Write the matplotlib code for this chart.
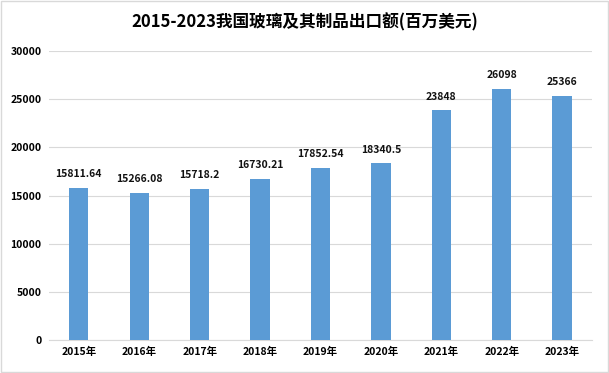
import matplotlib
matplotlib.use("Agg")
import matplotlib.pyplot as plt

plt.rcParams['font.family'] = ['Noto Sans CJK SC', 'DejaVu Sans']

years = ["2015年", "2016年", "2017年", "2018年", "2019年", "2020年", "2021年", "2022年", "2023年"]
values = [15811.64, 15266.08, 15718.2, 16730.21, 17852.54, 18340.5, 23848, 26098, 25366]
labels = ["15811.64", "15266.08", "15718.2", "16730.21", "17852.54", "18340.5", "23848", "26098", "25366"]
yticks = [0, 5000, 10000, 15000, 20000, 25000, 30000]

fig = plt.figure(figsize=(6.09, 3.73), dpi=100)
ax = fig.add_axes([0.0797, 0.088, 0.893, 0.775])
x = list(range(len(years)))
ax.bar(x, values, width=0.32, color='#5B9BD5', zorder=3)
for xi, v, lab in zip(x, values, labels):
    ax.text(xi, v + 900, lab, ha='center', va='bottom', fontsize=7.5, fontweight='bold', color='#111111')
ax.set_ylim(0, 30000)
ax.set_xlim(-0.5, len(years) - 0.5)
ax.set_yticks(yticks)
ax.set_yticklabels([str(t) for t in yticks], fontsize=7.5, fontweight='bold')
ax.set_xticks(x)
ax.set_xticklabels(years, fontsize=7.5, fontweight='bold')
ax.yaxis.grid(True, color='#d9d9d9', linewidth=0.8, zorder=0)
for s in ['top', 'right', 'left']:
    ax.spines[s].set_visible(False)
ax.spines['bottom'].set_color('#d9d9d9')
ax.tick_params(axis='both', length=0, pad=5)
fig.text(0.5, 0.94, "2015-2023我国玻璃及其制品出口额(百万美元)", ha='center', va='center',
         fontsize=12, fontweight='bold')
rect = plt.Rectangle((0.002, 0.003), 0.996, 0.994, transform=fig.transFigure, fill=False,
                     edgecolor='#d9d9d9', linewidth=1)
fig.patches.append(rect)
fig.savefig("out.png", dpi=100)
